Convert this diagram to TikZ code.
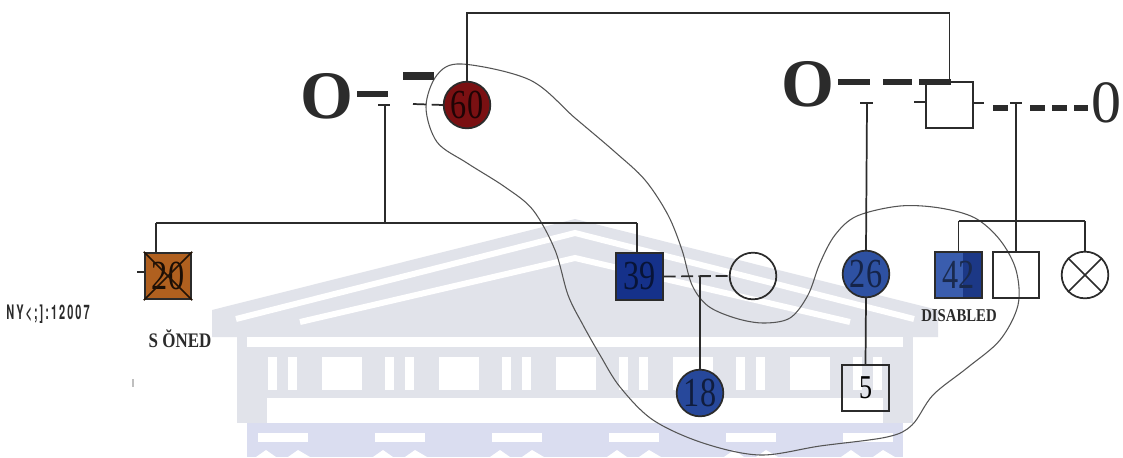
\documentclass[tikz,border=0pt]{standalone}
\usepackage{fontspec}
\setmainfont{Liberation Serif}
\setsansfont{TeX Gyre Heros}
\newfontfamily\numfont[FakeStretch=0.78]{Liberation Serif}
\newfontfamily\capfont[FakeStretch=0.82]{Liberation Serif}
\newfontfamily\narrowsans[FakeStretch=0.55,LetterSpace=10]{TeX Gyre Heros}
\definecolor{ln}{HTML}{2B2B2B}
\definecolor{red60}{HTML}{7A1012}
\definecolor{brown20}{HTML}{B0601F}
\definecolor{navy39}{HTML}{15318A}
\definecolor{blue18}{HTML}{27489B}
\definecolor{blue26}{HTML}{2E51A2}
\definecolor{blue42a}{HTML}{3A5DAE}
\definecolor{blue42b}{HTML}{1C3886}
\definecolor{wm}{HTML}{E1E3EA}
\definecolor{wmb}{HTML}{DADDF0}
\definecolor{outl}{HTML}{555555}
\begin{document}
\begin{tikzpicture}[x=0.75pt,y=-0.75pt,
  conn/.style={draw=ln,line width=1.3pt},
  heavy/.style={draw=ln,line width=#1},
  femalebox/.style={circle,draw=ln,line width=1.3pt,minimum size=35pt,inner sep=0pt},
  malebox/.style={rectangle,draw=ln,line width=1.3pt,minimum size=35pt,inner sep=0pt},
  numlab/.style={font=\numfont\fontsize{31}{31}\selectfont},
  bigo/.style={font=\bfseries\fontsize{51}{51}\selectfont,text=ln,inner sep=0pt},
  caplab/.style={font=\capfont\bfseries\fontsize{13.5}{13.5}\selectfont,text=ln,inner sep=0pt}]
\useasboundingbox (0,0) rectangle (1123,457);
\fill[white] (0,0) rectangle (1123,457);
% ---------- watermark ----------
\begin{scope}
  \path[clip] (212,322) -- (212,310) -- (575,219) -- (938,310) -- (938,337) -- (212,337) -- cycle;
  \fill[wm] (200,200) rectangle (950,340);
  \draw[white,line width=4.5pt] (236,319) -- (575,233) -- (914,319);
  \draw[white,line width=4.5pt] (300,322) -- (575,258) -- (850,322);
\end{scope}
\fill[wm] (237,337) rectangle (913,423);
\fill[wmb] (247,423) rectangle (903,457);
\fill[white] (247,337) rectangle (903,347);
\foreach \k in {0,...,5}{
  \pgfmathsetmacro{\xo}{268+117*\k}
  \fill[white] (\xo,357) rectangle (\xo+9,390);
  \fill[white] (\xo+20,357) rectangle (\xo+29,390);
}
\foreach \k in {0,...,4}{
  \pgfmathsetmacro{\xo}{268+117*\k}
  \fill[white] (\xo+54,357) rectangle (\xo+94,390);
}
\fill[white] (267,398) rectangle (883,423);
\foreach \k in {0,...,5}{
  \pgfmathsetmacro{\xo}{258+117*\k}
  \fill[white] (\xo,433) rectangle (\xo+50,442);
  \fill[white] (\xo+8,450) -- (\xo+18,457) -- (\xo-2,457) -- cycle;
  \fill[white] (\xo+40,450) -- (\xo+52,457) -- (\xo+30,457) -- cycle;
}
\draw[gray!50,line width=0.8pt] (133,379) -- (133,387);
% ---------- outline ----------
\draw[outl,line width=0.8pt] plot[smooth cycle,tension=0.55] coordinates {
 (462,64) (530,80) (575,118) (615,152) (645,180) (668,215) (682,250) (692,285)
 (708,306) (735,318) (763,323) (790,318) (808,295) (820,263) (835,235) (857,216)
 (900,206) (940,208) (975,218) (1000,240) (1016,270) (1018,305) (1000,340)
 (967,368) (933,395) (912,425) (887,437) (820,446) (760,455) (703,443) (653,420)
 (620,387) (600,355) (583,325) (568,295) (555,250) (533,210) (505,187) (467,163)
 (437,142) (426,107) (437,75)};
% ---------- people ----------
\node[femalebox,fill=red60,numlab,text=black!75!red60] (p60) at (467,105) {60};
\node[malebox] (pR) at (949.5,105) {};
\node[malebox,fill=brown20,numlab,text=black!85!brown20] (p20) at (168,276) {20};
\draw[black!80!brown20,line width=1.2pt] (p20.north west) -- (p20.south east) (p20.north east) -- (p20.south west);
\node[malebox,fill=navy39,numlab,text=black!60!navy39] (p39) at (639.5,276.5) {39};
\node[femalebox] (pW) at (753,276) {};
\node[femalebox,fill=blue18,numlab,text=black!60!blue18] (p18) at (700,393) {18};
\node[femalebox,fill=blue26,numlab,text=black!55!blue26] (p26) at (866,274) {26};
\node[malebox,numlab,font=\numfont\fontsize{25}{25}\selectfont] (p5) at (865.5,388) {5};
\node[malebox,fill=blue42a,numlab,text=black!55!blue42a,
  path picture={\fill[blue42b] ([xshift=3.4pt]path picture bounding box.north) rectangle (path picture bounding box.south east);}] (p42) at (958.5,275) {42};
\node[malebox] (pS) at (1016,275) {};
\node[femalebox] (pX) at (1085,275) {};
\draw[conn] (pX.north west) -- (pX.south east) (pX.north east) -- (pX.south west);
% ---------- texts ----------
\node[bigo] (O1) at (327,96) {O};
\node[bigo] (O2) at (808,84) {O};
\node[font=\fontsize{45}{45}\selectfont,text=ln,inner sep=0pt] (Z) at (1106,103) {0};
\node[caplab] (dis) at (959,316) {DISABLED};
\node[caplab,font=\capfont\bfseries\fontsize{15.5}{15.5}\selectfont] (son) at (180,339) {S ŎNED};
\node[font=\narrowsans\bfseries\fontsize{15}{15}\selectfont,text=ln,inner sep=0pt] (ny) at (48,314) {NY<;]:12007};
% ---------- coordinates ----------
\coordinate (tL) at (385,105);
\coordinate (sibL) at (385,223);
\coordinate (s20) at (156,223);
\coordinate (s39) at (637,223);
\coordinate (j18) at (700,276);
\coordinate (tR) at (867,103);
\coordinate (tR2) at (1016,103);
\coordinate (s42) at (958.5,221);
\coordinate (sX) at (1085,221);
% ---------- left couple ----------
\draw[heavy=4.5pt] (357,94) -- (388,94);
\draw[heavy=5.5pt] (403,76) -- (434,76);
\draw[conn] (378,105) -- (390,105);
\draw[conn] (tL) -- (sibL);
\draw[conn,dash pattern=on 10pt off 4pt] (413,104) -- (p60.west);
\draw[conn] (p60.north) -- (467,13) -| (pR.north);
% ---------- left siblings ----------
\draw[conn] (s20) -- (s39);
\draw[conn] (s20) -- (s20 |- p20.north);
\draw[conn] (s39) -- (s39 |- p39.north);
\draw[conn] (137,272) -- (p20.west |- 0,272);
\draw[conn,dash pattern=on 9pt off 4pt] (p39.east) -- (pW.west);
\draw[conn] (j18) -- (711,276);
\draw[conn] (j18) -- (p18.north);
% ---------- right couple ----------
\draw[heavy=5pt] (838,82) -- (870,82);
\draw[heavy=5pt] (883,82) -- (912,82);
\draw[heavy=5pt] (919,82) -- (951,82);
\draw[conn] (860,103) -- (873,103);
\draw[conn] (tR) -- (p26.north);
\draw[conn] (p26.south) -- (p5.north);
\draw[conn] (914,102) -- (pR.west |- 0,102);
\draw[conn] (pR.east |- 0,103) -- (984,103);
\draw[heavy=4.5pt] (993,108) -- (1008,108);
\draw[conn] (1010,103) -- (1022,103);
\draw[conn] (tR2) -- (pS.north);
\draw[heavy=4pt] (1030,108) -- (1045,108);
\draw[heavy=4pt] (1052,108) -- (1067,108);
\draw[heavy=4pt] (1074,108) -- (1088,108);
% ---------- right siblings ----------
\draw[conn] (s42) -- (sX);
\draw[conn] (s42) -- (p42.north);
\draw[conn] (sX) -- (pX.north);
\end{tikzpicture}
\end{document}
